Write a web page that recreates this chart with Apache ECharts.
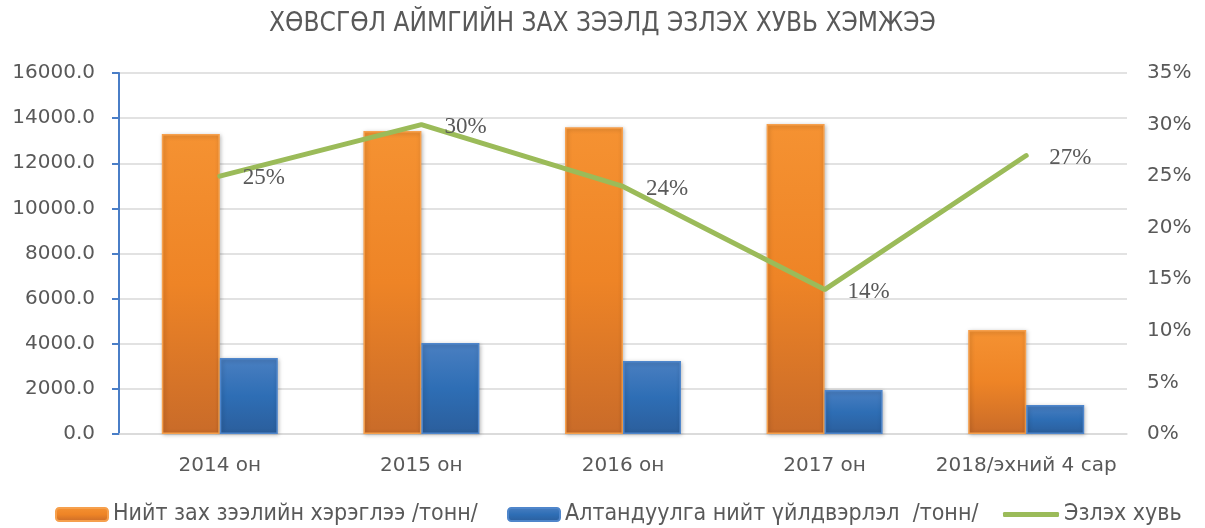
<!DOCTYPE html>
<html>
<head>
<meta charset="utf-8">
<script src="https://cdn.jsdelivr.net/npm/echarts@6/dist/echarts.min.js"></script>
<style>
  html, body { margin: 0; padding: 0; background: #fff; }
  #chart { width: 1205px; height: 528px; }
</style>
</head>
<body>
<div id="chart"></div>
<script>
const categories = ['2014 он', '2015 он', '2016 он', '2017 он', '2018/эхний 4 сар']
const consumption = [13300, 13430, 13600, 13740, 4610]
const production = [3370, 4030, 3240, 1950, 1290]
const share = [0.25, 0.30, 0.24, 0.14, 0.27]
const leftTicks = { min: 0, max: 16000, interval: 2000 }
const rightTicks = { min: 0, max: 0.35, interval: 0.05 }

const names = ['Нийт зах зээлийн хэрэглээ /тонн/', 'Алтандуулга нийт үйлдвэрлэл  /тонн/', 'Эзлэх хувь']
const gray = '#595959'
const green = '#9bbb59'
const sans = 'DejaVu Sans'
const cond = 'DejaVu Sans Condensed'

const chart = echarts.init(document.getElementById('chart'))

const grad = (top, mid, bottom) => new echarts.graphic.LinearGradient(0, 0, 0, 1, [
  { offset: 0, color: top }, { offset: 0.5, color: mid }, { offset: 1, color: bottom }
])

const legendBase = {
  top: 498, itemHeight: 13, itemWidth: 52, selectedMode: false,
  textStyle: { color: gray, fontSize: 23, fontFamily: cond }
}

chart.setOption({
  animation: false,
  title: {
    text: 'ХӨВСГӨЛ АЙМГИЙН ЗАХ ЗЭЭЛД ЭЗЛЭХ ХУВЬ ХЭМЖЭЭ',
    left: 'center', top: 6,
    textStyle: { color: gray, fontSize: 26, fontWeight: 'normal', fontFamily: cond }
  },
  legend: [
    { ...legendBase, left: 50, data: [names[0]] },
    { ...legendBase, left: 502, data: [names[1]] },
    {
      ...legendBase, left: 998, itemWidth: 56, itemHeight: 5,
      data: [{ name: names[2], icon: 'roundRect', itemStyle: { color: green, opacity: 1 } }]
    }
  ],
  grid: { left: 119, right: 78, top: 73, bottom: 94 },
  xAxis: {
    type: 'category',
    data: categories,
    axisLine: { lineStyle: { color: '#d9d9d9', width: 1.5 } },
    axisTick: { show: false },
    axisLabel: { color: gray, fontSize: 20, fontFamily: sans, margin: 22, interval: 0 }
  },
  yAxis: [
    {
      type: 'value', ...leftTicks,
      axisLine: { show: true, lineStyle: { color: '#4a7ec7', width: 2 } },
      axisTick: { show: true, length: 7, lineStyle: { color: '#4a7ec7', width: 2 } },
      axisLabel: { color: gray, fontSize: 20, fontFamily: sans, margin: 24, formatter: v => v.toFixed(1) },
      splitLine: { lineStyle: { color: '#d9d9d9', width: 1.5 } }
    },
    {
      type: 'value', ...rightTicks,
      axisLine: { show: false }, axisTick: { show: false },
      axisLabel: { color: gray, fontSize: 20, fontFamily: sans, margin: 20, formatter: v => Math.round(v * 100) + '%' },
      splitLine: { show: false }
    }
  ],
  series: [
    {
      name: names[0], type: 'bar', data: consumption,
      barWidth: 58, barGap: '0%',
      itemStyle: {
        color: grad('#f59232', '#ee8426', '#c96b29'),
        borderColor: '#f6a04d', borderWidth: 1.5,
        shadowBlur: 4, shadowColor: 'rgba(0,0,0,0.25)', shadowOffsetX: 1, shadowOffsetY: 1
      }
    },
    {
      name: names[1], type: 'bar', data: production,
      barWidth: 58,
      itemStyle: {
        color: grad('#4a7fc1', '#2e6eb5', '#2b5e9c'),
        borderColor: '#4f86cb', borderWidth: 1.5,
        shadowBlur: 4, shadowColor: 'rgba(0,0,0,0.25)', shadowOffsetX: 1, shadowOffsetY: 1
      }
    },
    {
      name: names[2], type: 'line', yAxisIndex: 1, data: share,
      symbol: 'circle', symbolSize: 2, showSymbol: true, z: 5,
      itemStyle: { color: green },
      lineStyle: { color: green, width: 5, cap: 'round' },
      label: {
        show: true, position: 'right', distance: 22, offset: [0, 2],
        color: gray, fontSize: 23, fontFamily: 'Liberation Serif',
        formatter: p => Math.round(p.value * 100) + '%'
      }
    }
  ]
})
</script>
</body>
</html>
